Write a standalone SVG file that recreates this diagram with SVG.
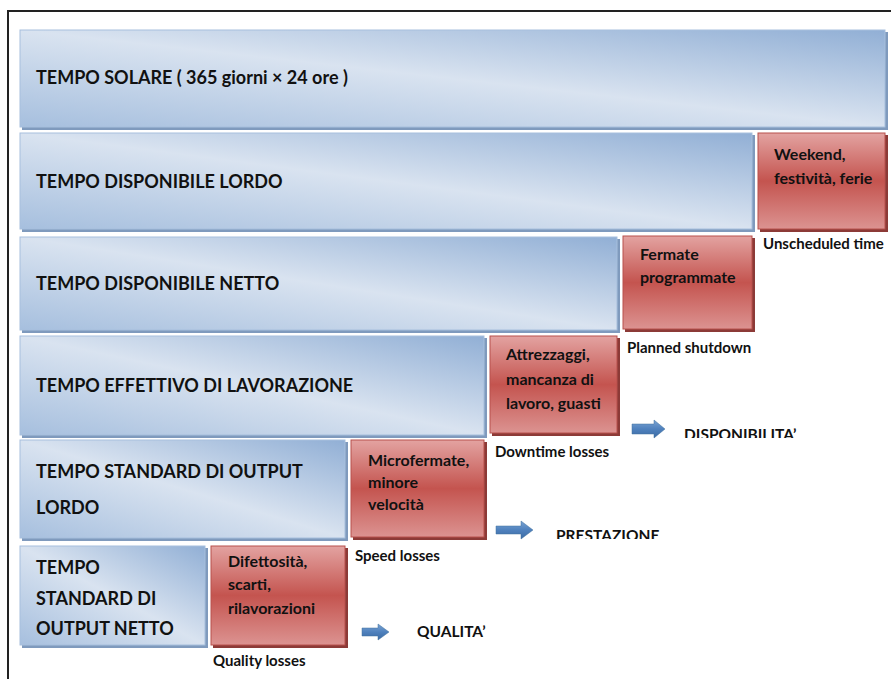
<svg xmlns="http://www.w3.org/2000/svg" width="891" height="679" viewBox="0 0 891 679">
  <defs>
    <!-- blue time bars: light band along the diagonal, darker corners -->
    <linearGradient id="gBlue" x1="0" y1="1" x2="1" y2="0">
      <stop offset="0" stop-color="#a6bfde"/>
      <stop offset="0.5" stop-color="#d9e3f0"/>
      <stop offset="1" stop-color="#91afd5"/>
    </linearGradient>
    <!-- red loss boxes: light top/bottom, deep red middle -->
    <linearGradient id="gRed" x1="0" y1="0" x2="0" y2="1">
      <stop offset="0" stop-color="#e3a3a1"/>
      <stop offset="0.5" stop-color="#c4544f"/>
      <stop offset="1" stop-color="#dc9391"/>
    </linearGradient>
    <linearGradient id="gArrow" x1="0" y1="0" x2="0" y2="1">
      <stop offset="0" stop-color="#7aa3d3"/>
      <stop offset="0.5" stop-color="#4f81bd"/>
      <stop offset="1" stop-color="#3b6aa3"/>
    </linearGradient>
    <clipPath id="clipDisp"><rect x="670" y="410" width="160" height="28"/></clipPath>
    <clipPath id="clipPrest"><rect x="545" y="510" width="140" height="29"/></clipPath>
  </defs>
  <style>
    .bshadow { fill: #7f9abd; }
    .blue { fill: url(#gBlue); stroke: #a7bfdd; stroke-width: 1; }
    .rshadow { fill: #8c3a37; }
    .red { fill: url(#gRed); stroke: #b8504c; stroke-width: 1; }
    .t { font-family: Lato, "Liberation Sans", sans-serif; font-weight: bold; fill: #111; }
    .big { font-size: 18px; }
    .small { font-size: 16px; }
    .lbl { font-size: 15px; }
    .res { font-size: 15.5px; }
    .arrow { fill: url(#gArrow); stroke: #41719c; stroke-width: 0.5; }
  </style>

  <!-- frame -->
  <path d="M8,679 V11 H891" fill="none" stroke="#222" stroke-width="2"/>

  <g id="tempo-solare">
    <rect class="bshadow" x="22" y="32" width="866" height="98"/>
    <rect class="blue" x="20" y="30" width="865" height="97"/>
    <text class="t big" x="36" y="84">TEMPO SOLARE ( 365 giorni × 24 ore )</text>
  </g>

  <g id="tempo-disponibile-lordo">
    <rect class="bshadow" x="22" y="135" width="733" height="97"/>
    <rect class="blue" x="20" y="133" width="732" height="96"/>
    <text class="t big" x="36" y="188">TEMPO DISPONIBILE LORDO</text>
  </g>

  <g id="unscheduled">
    <rect class="rshadow" x="760" y="135" width="128" height="97"/>
    <rect class="red" x="758" y="133" width="127" height="96"/>
    <text class="t small" x="774" y="160">Weekend,</text>
    <text class="t small" x="774" y="184">festività, ferie</text>
    <text class="t lbl" x="763" y="249">Unscheduled time</text>
  </g>

  <g id="tempo-disponibile-netto">
    <rect class="bshadow" x="22" y="239" width="598" height="94"/>
    <rect class="blue" x="20" y="237" width="597" height="93"/>
    <text class="t big" x="36" y="290">TEMPO DISPONIBILE NETTO</text>
  </g>

  <g id="planned">
    <rect class="rshadow" x="625" y="238" width="130" height="94"/>
    <rect class="red" x="623" y="236" width="129" height="93"/>
    <text class="t small" x="640" y="260">Fermate</text>
    <text class="t small" x="640" y="283">programmate</text>
    <text class="t lbl" x="627" y="353">Planned shutdown</text>
  </g>

  <g id="tempo-effettivo">
    <rect class="bshadow" x="22" y="338" width="465" height="100"/>
    <rect class="blue" x="20" y="336" width="464" height="99"/>
    <text class="t big" x="36" y="392">TEMPO EFFETTIVO DI LAVORAZIONE</text>
  </g>

  <g id="downtime">
    <rect class="rshadow" x="492" y="338" width="128" height="98"/>
    <rect class="red" x="490" y="336" width="127" height="97"/>
    <text class="t small" x="506" y="360">Attrezzaggi,</text>
    <text class="t small" x="506" y="385">mancanza di</text>
    <text class="t small" x="506" y="409">lavoro, guasti</text>
    <text class="t lbl" x="495" y="457">Downtime losses</text>
  </g>

  <g id="tempo-standard-lordo">
    <rect class="bshadow" x="22" y="442" width="326" height="99"/>
    <rect class="blue" x="20" y="440" width="325" height="98"/>
    <text class="t big" x="36" y="478">TEMPO STANDARD DI OUTPUT</text>
    <text class="t big" x="36" y="514">LORDO</text>
  </g>

  <g id="speed">
    <rect class="rshadow" x="353" y="442" width="134" height="98"/>
    <rect class="red" x="351" y="440" width="133" height="97"/>
    <text class="t small" x="368" y="466">Microfermate,</text>
    <text class="t small" x="368" y="488">minore</text>
    <text class="t small" x="368" y="510">velocità</text>
    <text class="t lbl" x="355" y="561">Speed losses</text>
  </g>

  <g id="tempo-standard-netto">
    <rect class="bshadow" x="22" y="548" width="186" height="100"/>
    <rect class="blue" x="20" y="546" width="185" height="99"/>
    <text class="t big" x="36" y="574">TEMPO</text>
    <text class="t big" x="36" y="605">STANDARD DI</text>
    <text class="t big" x="36" y="635">OUTPUT NETTO</text>
  </g>

  <g id="quality">
    <rect class="rshadow" x="213" y="548" width="135" height="100"/>
    <rect class="red" x="211" y="546" width="134" height="99"/>
    <text class="t small" x="228" y="567">Difettosità,</text>
    <text class="t small" x="228" y="590">scarti,</text>
    <text class="t small" x="228" y="614">rilavorazioni</text>
    <text class="t lbl" x="213" y="666">Quality losses</text>
  </g>

  <!-- indicator arrows -->
  <g id="connectors">
    <path class="arrow" d="M632,424 H654 V420 L665,429 L654,438 V434 H632 Z"/>
    <path class="arrow" d="M496,526 H521 V521 L533,530 L521,539 V534 H496 Z"/>
    <path class="arrow" d="M362,628 H378 V624 L389,632 L378,640 V636 H362 Z"/>
  </g>

  <g id="indicators">
    <text class="t res" x="684" y="440" clip-path="url(#clipDisp)">DISPONIBILITA’</text>
    <text class="t res" x="556" y="541" clip-path="url(#clipPrest)">PRESTAZIONE</text>
    <text class="t res" x="417" y="637">QUALITA’</text>
  </g>
</svg>
